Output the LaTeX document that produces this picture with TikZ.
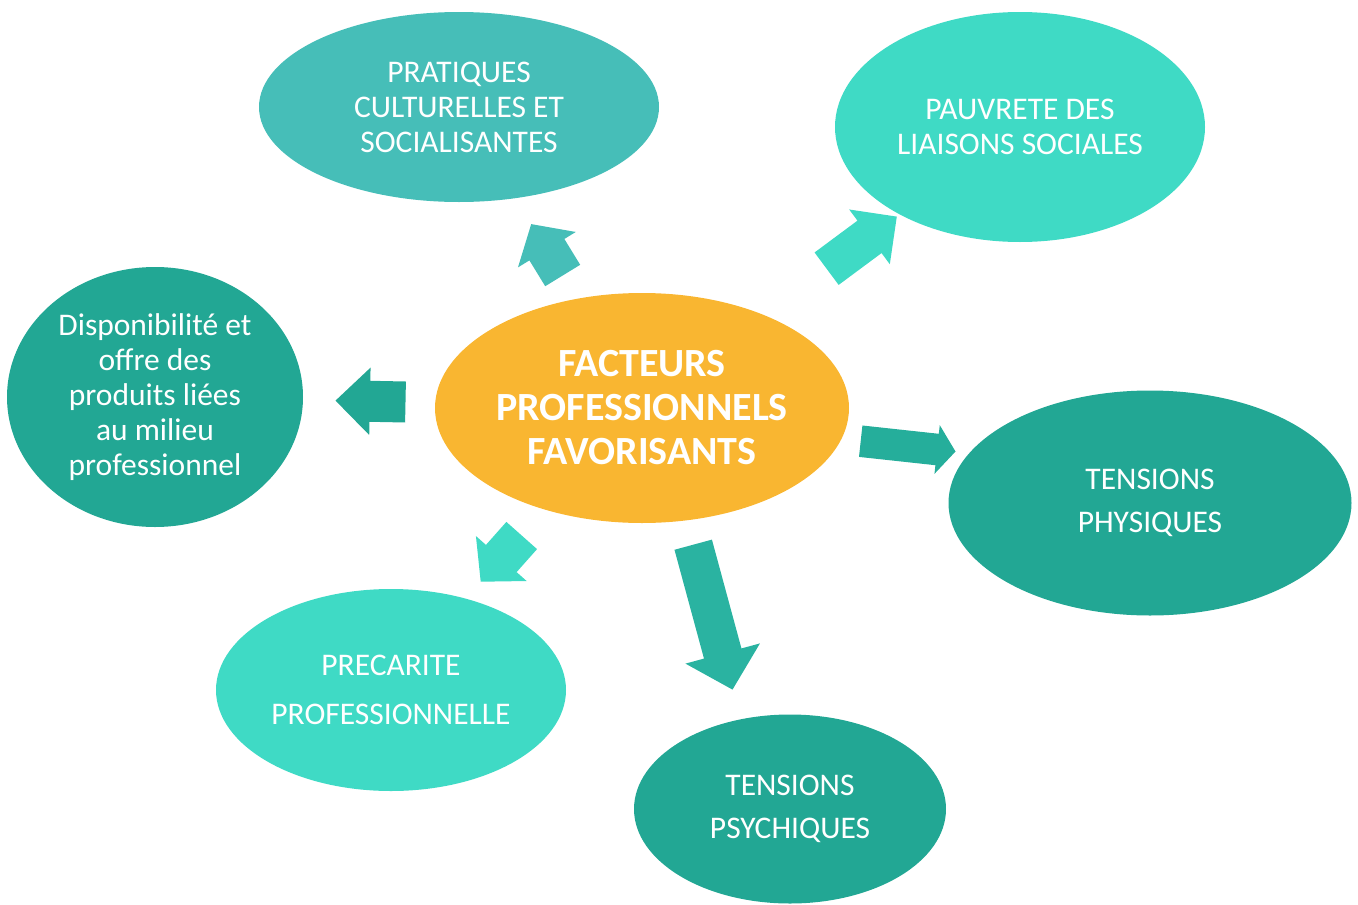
\documentclass[tikz,border=0pt]{standalone}
\usepackage{fontspec}
\setmainfont{Carlito}
\usepackage{xcolor}
\usetikzlibrary{shapes.geometric, calc}

\definecolor{hubyellow}{HTML}{F9B631}
\definecolor{tealmid}{HTML}{46BEB8}
\definecolor{teallight}{HTML}{3FDAC5}
\definecolor{tealdark}{HTML}{22A794}
\definecolor{tealarrow}{HTML}{2AB3A1}
\definecolor{tealside}{HTML}{25AE9B}

\tikzset{
    hub/.style={ellipse, fill=hubyellow, text=white, align=center, inner sep=0pt,
        minimum width=414pt, minimum height=230pt, font=\fontsize{40}{44}\selectfont\bfseries},
    bubble/.style={ellipse, fill=#1, text=white, align=center, inner sep=0pt,
        font=\fontsize{31.5}{35}\selectfont}
}

% block arrow: tail, tip, half shaft, half head, head length, colour
\newcommand{\factorarrow}[6]{%
    \coordinate (hb) at ($(#2)!#5!(#1)$);
    \fill[#6] ($(#1)!#3!90:(#2)$) -- ($(hb)!#3!90:(#2)$) -- ($(hb)!#4!90:(#2)$) -- (#2)
        -- ($(hb)!#4!-90:(#2)$) -- ($(hb)!#3!-90:(#2)$) -- ($(#1)!#3!-90:(#2)$) -- cycle;
}

\begin{document}
\begin{tikzpicture}[x=1pt, y=-1pt]
    \useasboundingbox (0,0) rectangle (1358,905);

    \node[hub] (hub) at (642,408) {FACTEURS\\PROFESSIONNELS\\FAVORISANTS};

    \node[bubble=tealmid, minimum width=400pt, minimum height=190pt] (pratiques) at (459,107)
        {PRATIQUES\\CULTURELLES ET\\SOCIALISANTES};
    \node[bubble=teallight, minimum width=370pt, minimum height=230pt] (pauvrete) at (1020,127)
        {PAUVRETE DES\\LIAISONS SOCIALES};
    \node[bubble=tealdark, minimum width=296pt, minimum height=260pt] (offre) at (155,397)
        {Disponibilité et\\offre des\\produits liées\\au milieu\\professionnel};
    \node[bubble=tealdark, minimum width=403pt, minimum height=225pt,
        font=\fontsize{31.5}{43}\selectfont] (physiques) at (1150,503) {TENSIONS\\PHYSIQUES};
    \node[bubble=teallight, minimum width=350pt, minimum height=202pt,
        font=\fontsize{31.5}{49}\selectfont] (precarite) at (391,690) {PRECARITE\\PROFESSIONNELLE};
    \node[bubble=tealdark, minimum width=312pt, minimum height=189pt,
        font=\fontsize{31.5}{43}\selectfont] (psychiques) at (790,809) {TENSIONS\\PSYCHIQUES};

    % arrow ends
    \coordinate (pratiques-tail) at (562.7,275.5);
    \coordinate (pratiques-tip) at (531.2,224.1);
    \coordinate (pauvrete-tail) at (826.6,268.7);
    \coordinate (pauvrete-tip) at (896.8,216.6);
    \coordinate (offre-tail) at (405.5,402);
    \coordinate (offre-tip) at (335.5,400.6);
    \coordinate (physiques-tail) at (860.7,441.2);
    \coordinate (physiques-tip) at (955.5,451.5);
    \coordinate (precarite-tail) at (521.7,535.5);
    \coordinate (precarite-tip) at (480.7,581.7);
    \coordinate (psychiques-tail) at (693.2,544.7);
    \coordinate (psychiques-tip) at (732.5,689.6);

    \factorarrow{pratiques-tail}{pratiques-tip}{20.5pt}{33.9pt}{30pt}{tealmid}
    \factorarrow{pauvrete-tail}{pauvrete-tip}{20.2pt}{34.1pt}{34pt}{teallight}
    \factorarrow{offre-tail}{offre-tip}{20.5pt}{33.7pt}{34.4pt}{tealdark}
    \factorarrow{physiques-tail}{physiques-tip}{15.8pt}{24.5pt}{18.5pt}{tealside}
    \factorarrow{precarite-tail}{precarite-tip}{20.5pt}{33.9pt}{31pt}{teallight}
    \factorarrow{psychiques-tail}{psychiques-tip}{19.4pt}{38.6pt}{37.4pt}{tealarrow}
\end{tikzpicture}
\end{document}
